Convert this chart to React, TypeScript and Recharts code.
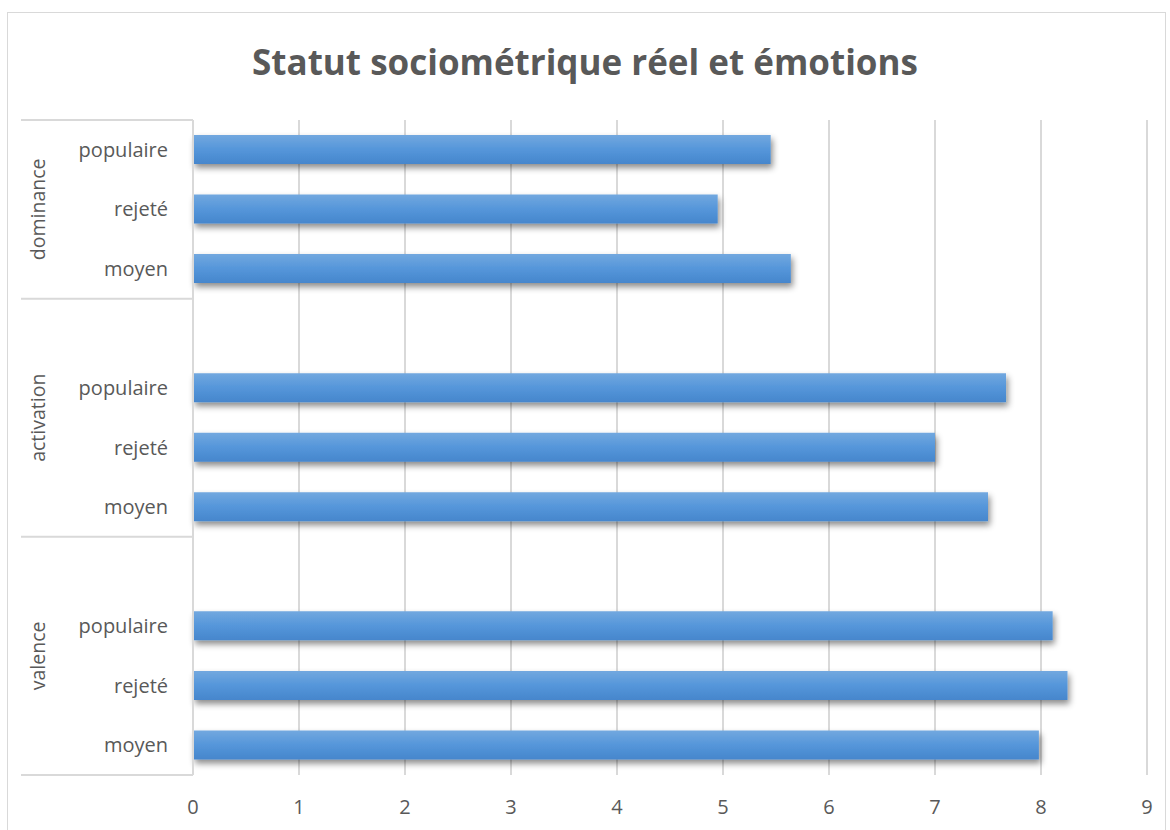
import { BarChart, Bar, XAxis, YAxis, CartesianGrid } from 'recharts'

const groups = ['dominance', 'activation', 'valence']
const statuses = ['populaire', 'rejeté', 'moyen']
const dominanceValues = [5.45, 4.95, 5.64]
const activationValues = [7.67, 7.0, 7.5]
const valenceValues = [8.11, 8.25, 7.98]
const xTicks = [0, 1, 2, 3, 4, 5, 6, 7, 8, 9]

const W = 1170
const H = 830
const PLOT_LEFT = 193
const PLOT_TOP = 120
const PLOT_BOTTOM = 775
const GROUP_LEFT = 21
const TEXT = '#595959'
const LINE = '#d9d9d9'
const FONT = '"Open Sans", sans-serif'

interface Row {
  key: string
  label: string
  group: number
  value: number | null
}

// groupes empilés, avec une ligne vide entre deux groupes (comme Excel)
const groupValues = [dominanceValues, activationValues, valenceValues]
const rows: Row[] = []
const groupStart: number[] = []
groupValues.forEach((vals, gi) => {
  groupStart.push(rows.length)
  if (gi > 0) rows.push({ key: `gap-${gi}`, label: '', group: gi, value: null })
  statuses.forEach((s, si) => {
    rows.push({ key: `${groups[gi]}-${s}`, label: s, group: gi, value: vals[si] })
  })
})
const groupEnd = groupStart.map((s, i) => (i + 1 < groupStart.length ? groupStart[i + 1] : rows.length))

const band = (PLOT_BOTTOM - PLOT_TOP) / rows.length

const CategoryTick = (props: any) => {
  const { y, index } = props
  const row = rows[index]
  if (!row) return null
  const gi = groupStart.indexOf(index)
  const top = y - band / 2
  const mid = gi >= 0 ? top + ((groupEnd[gi] - groupStart[gi]) * band) / 2 : 0
  return (
    <g>
      {row.label && (
        <text x={PLOT_LEFT - 25} y={y} dy="0.35em" textAnchor="end" fill={TEXT} fontSize={20} fontFamily={FONT}>
          {row.label}
        </text>
      )}
      {gi >= 0 && (
        <>
          <line x1={GROUP_LEFT} x2={PLOT_LEFT} y1={top} y2={top} stroke={LINE} strokeWidth={2} />
          <text
            x={38}
            y={mid}
            dy="0.35em"
            textAnchor="middle"
            fill={TEXT}
            fontSize={19.5}
            fontFamily={FONT}
            transform={`rotate(-90 38 ${mid})`}
          >
            {groups[gi]}
          </text>
        </>
      )}
      {index === rows.length - 1 && (
        <line x1={GROUP_LEFT} x2={PLOT_LEFT} y1={y + band / 2} y2={y + band / 2} stroke={LINE} strokeWidth={2} />
      )}
    </g>
  )
}

const ValueTick = (props: any) => {
  const { x, payload } = props
  return (
    <text x={x} y={814} textAnchor="middle" fill={TEXT} fontSize={20} fontFamily={FONT}>
      {payload.value}
    </text>
  )
}

export default function App() {
  return (
    <div style={{ position: 'absolute', left: 0, top: 0, width: W, height: H, background: '#fff', overflow: 'hidden' }}>
      <svg width={0} height={0} style={{ position: 'absolute' }}>
        <defs>
          <linearGradient id="barGrad" x1="0" y1="0" x2="0" y2="1">
            <stop offset="0%" stopColor="#72a8df" />
            <stop offset="50%" stopColor="#5596da" />
            <stop offset="100%" stopColor="#4686cc" />
          </linearGradient>
          <filter id="barShadow" x="-5%" y="-30%" width="110%" height="180%">
            <feDropShadow dx="2" dy="4" stdDeviation="3" floodColor="#000" floodOpacity="0.45" />
          </filter>
        </defs>
      </svg>
      <div
        style={{
          position: 'absolute',
          left: 7,
          top: 12,
          width: 1159,
          height: 840,
          border: `1.5px solid ${LINE}`,
          boxSizing: 'border-box',
        }}
      />
      <div
        style={{
          position: 'absolute',
          left: 0,
          top: 38,
          width: W,
          textAlign: 'center',
          fontFamily: FONT,
          fontWeight: 700,
          fontSize: 35,
          color: TEXT,
        }}
      >
        Statut sociométrique réel et émotions
      </div>
      <div style={{ position: 'absolute', left: 0, top: 0 }}>
        <BarChart
          width={W}
          height={H}
          data={rows}
          layout="vertical"
          margin={{ top: PLOT_TOP, right: W - 1147, bottom: 15, left: GROUP_LEFT }}
          barSize={29}
        >
          <CartesianGrid horizontal={false} stroke={LINE} strokeWidth={2} />
          <XAxis
            type="number"
            domain={[0, 9]}
            ticks={xTicks}
            interval={0}
            height={H - PLOT_BOTTOM - 15}
            axisLine={false}
            tickLine={false}
            tick={<ValueTick />}
          />
          <YAxis
            type="category"
            dataKey="key"
            width={PLOT_LEFT - GROUP_LEFT}
            interval={0}
            axisLine={{ stroke: LINE, strokeWidth: 2 }}
            tickLine={false}
            tick={<CategoryTick />}
          />
          <Bar
            dataKey="value"
            fill="url(#barGrad)"
            style={{ filter: 'url(#barShadow)' }}
            isAnimationActive={false}
          />
        </BarChart>
      </div>
    </div>
  )
}
